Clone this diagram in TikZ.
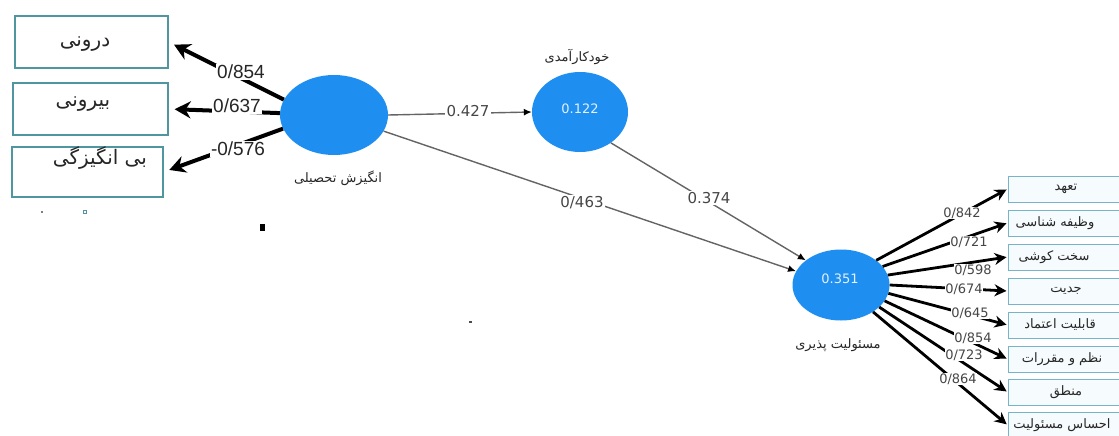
\documentclass[tikz,border=0pt]{standalone}
\usepackage{fontspec}
\setmainfont{Liberation Sans}
\newfontfamily\fa[Script=Arabic]{DejaVu Sans}
\newfontfamily\dv{DejaVu Sans}
\TeXXeTstate=1
\usetikzlibrary{arrows.meta,shapes.geometric}
\definecolor{ellblue}{RGB}{30,142,240}
\definecolor{lboxc}{RGB}{80,150,160}
\definecolor{rboxc}{RGB}{120,180,200}
\definecolor{rboxf}{RGB}{246,251,253}
\definecolor{gline}{RGB}{100,100,100}
\definecolor{gtext}{RGB}{70,70,70}
\tikzset{
  latent/.style={ellipse, fill=ellblue, draw=none},
  lbox/.style={rectangle, draw=lboxc, line width=1.3pt, fill=white},
  rbox/.style={rectangle, draw=rboxc, line width=1pt, fill=rboxf, minimum width=117pt, minimum height=26pt, inner sep=0pt},
  fatext/.style={font=\fa\fontsize{#1}{#1}\selectfont, text=black!85},
  ld/.style={line width=4pt, black, shorten >=6pt, -{Stealth[length=16pt,width=17pt]}},
  rd/.style={line width=2.8pt, black, shorten >=1pt, -{Stealth[length=12pt,width=12pt]}},
  gl/.style={line width=1.4pt, gline, -{Latex[length=8pt,width=7pt,color=black]}},
  llab/.style={fill=white, inner sep=1pt, font=\fontsize{19}{19}\selectfont, text=black!85},
  glab/.style={fill=white, inner sep=1.5pt, font=\dv\fontsize{15}{15}\selectfont, text=gtext},
  rlab/.style={fill=white, inner sep=0.5pt, font=\dv\fontsize{13}{13}\selectfont, text=gtext},
  vlab/.style={font=\dv\fontsize{13}{13}\selectfont, text=white!88!ellblue}
}
\begin{document}
\begin{tikzpicture}[x=1pt,y=-1pt]
\useasboundingbox[fill=white] (0,0) rectangle (1119,436);

% latent variables
\node[latent, minimum width=108pt, minimum height=80pt] (lm) at (334,115) {};
\node[latent, minimum width=96pt, minimum height=80pt] (mm) at (580,112) {};
\node[latent, minimum width=97pt, minimum height=71pt] (re) at (841,285) {};
\node[vlab] (vm) at (580,109) {0.122};
\node[vlab] (vr) at (840,279) {0.351};
\node[fatext=13] (nlm) at (338,178) {\beginR انگیزش تحصیلی\endR};
\node[fatext=13] (nmm) at (577,57) {\beginR خودکارآمدی\endR};
\node[fatext=13] (nre) at (838,345) {\beginR مسئولیت پذیری\endR};

% left indicator boxes
\node[lbox, minimum width=153pt, minimum height=52pt] (b1) at (91.5,42) {};
\node[lbox, minimum width=155pt, minimum height=52pt] (b2) at (90.5,109) {};
\node[lbox, minimum width=151pt, minimum height=50pt] (b3) at (87.5,172) {};
\node[fatext=20] (t1) at (85,44) {\beginR درونی\endR};
\node[fatext=20] (t2) at (83,104) {\beginR بیرونی\endR};
\node[fatext=20] (t3) at (100,158) {\beginR بی انگیزگی\endR};

% left loadings
\draw[ld] (lm.163) -- (b1.east);
\draw[ld] (lm.178) -- (b2.east);
\draw[ld] (lm.195) -- (b3.east);
\node[llab] (l1) at (241,72) {0/854};
\node[llab] (l2) at (237,106) {0/637};
\node[llab] (l3) at (238,149) {-0/576};

% structural paths
\draw[gl] (lm.east) -- (mm.west);
\draw[gl] (lm.-18) -- (re.163);
\draw[gl] (mm.-45) -- (re.145);
\node[glab] (p1) at (468,111) {0.427};
\node[glab] (p2) at (582,203) {0/463};
\node[glab] (p3) at (709,198) {0.374};

% right indicator boxes
\node[rbox] (r1) at (1066.5,189) {};
\node[rbox] (r2) at (1066.5,223) {};
\node[rbox] (r3) at (1066.5,257) {};
\node[rbox] (r4) at (1066.5,291) {};
\node[rbox] (r5) at (1066.5,325) {};
\node[rbox] (r6) at (1066.5,359) {};
\node[rbox] (r7) at (1066.5,392) {};
\node[rbox] (r8) at (1066.5,425) {};
\node[fatext=13] (s1) at (1066,189) {\beginR تعهد\endR};
\node[fatext=13] (s2) at (1055,223) {\beginR وظیفه شناسی\endR};
\node[fatext=13] (s3) at (1054,257) {\beginR سخت کوشی\endR};
\node[fatext=13] (s4) at (1066,291) {\beginR جدیت\endR};
\node[fatext=13] (s5) at (1060,325) {\beginR قابلیت اعتماد\endR};
\node[fatext=13] (s6) at (1062,359) {\beginR نظم و مقررات\endR};
\node[fatext=13] (s7) at (1066,392) {\beginR منطق\endR};
\node[fatext=13] (s8) at (1062,425) {\beginR احساس مسئولیت\endR};

% right loadings
\draw[rd] (re.35) -- (r1.west);
\draw[rd] (re.24) -- (r2.west);
\draw[rd] (re.12) -- (r3.west);
\draw[rd] (re.0) -- (r4.west);
\draw[rd] (re.-10) -- (r5.west);
\draw[rd] (re.-20) -- (r6.west);
\draw[rd] (re.-30) -- (r7.west);
\draw[rd] (re.-40) -- (r8.west);
\node[rlab] (q1) at (962,213) {0/842};
\node[rlab] (q2) at (969,242) {0/721};
\node[rlab] (q3) at (973,270) {0/598};
\node[rlab] (q4) at (964,289) {0/674};
\node[rlab] (q5) at (970,313) {0/645};
\node[rlab] (q6) at (973,338) {0/854};
\node[rlab] (q7) at (964,355) {0/723};
\node[rlab] (q8) at (958,379) {0/864};

% stray marks
\fill[black] (260,224) rectangle (265,231);
\fill[gray] (41,211) rectangle (43,213);
\draw[lboxc, line width=0.8pt] (83.5,210.5) rectangle (86.5,213.5);
\fill[black!70] (469,321) rectangle (472,323);
\end{tikzpicture}
\end{document}
